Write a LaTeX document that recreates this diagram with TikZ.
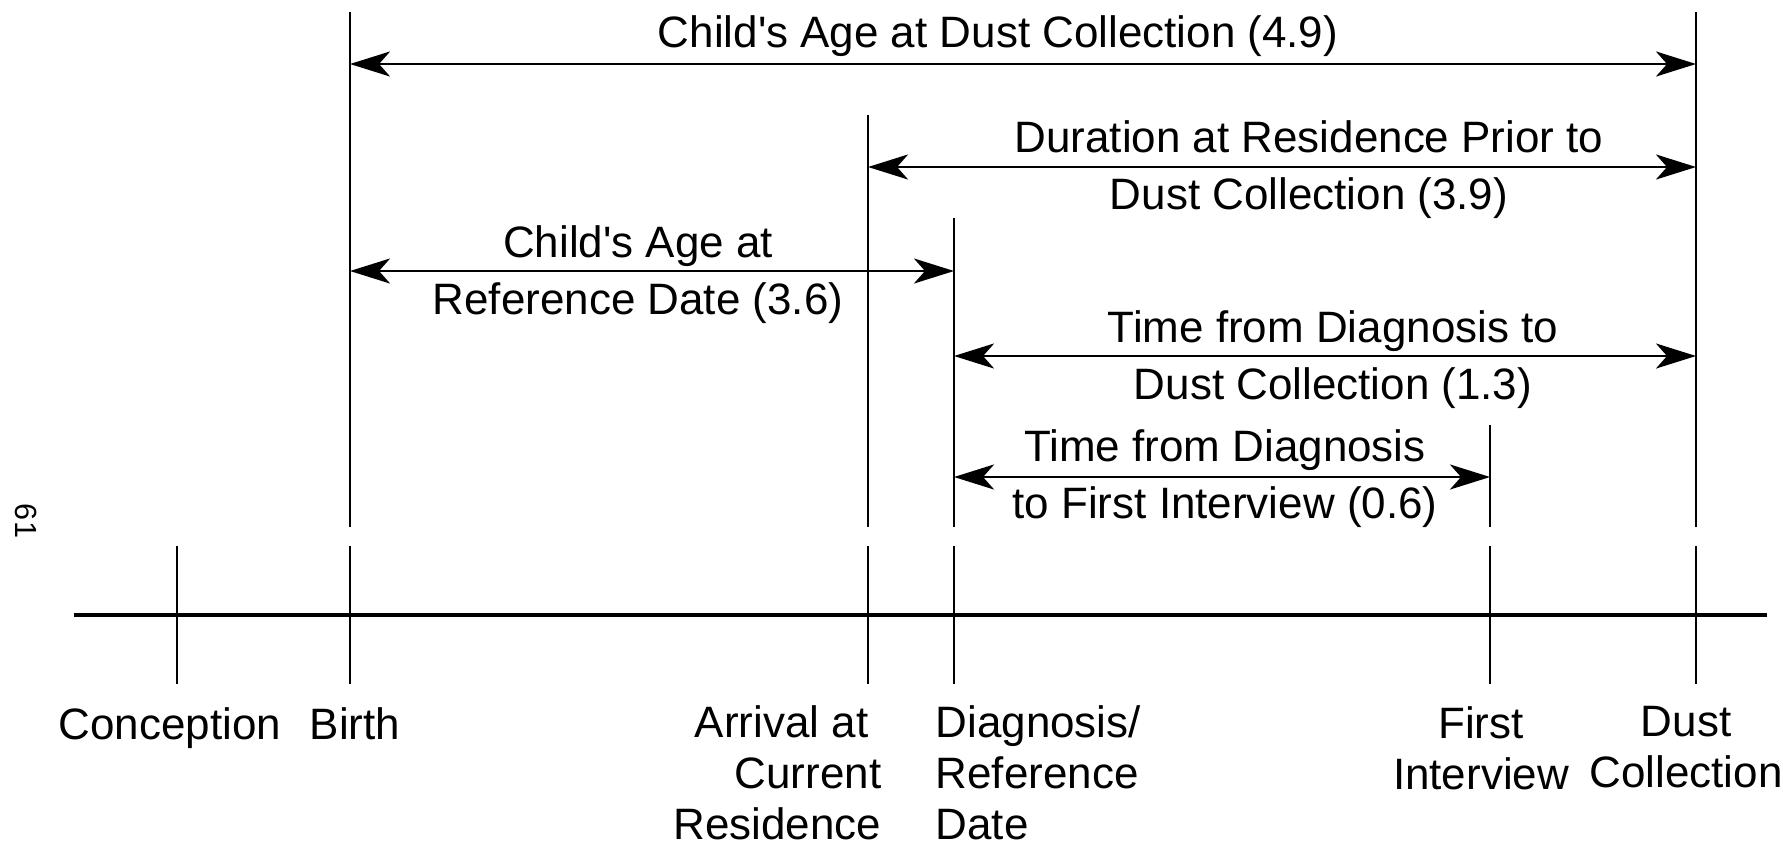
\documentclass[tikz,border=0pt]{standalone}
\usepackage{fontspec}
\setmainfont{Liberation Sans}[Ligatures=TeXOff]
\usetikzlibrary{arrows.meta}

\begin{document}
\begin{tikzpicture}[x=0.01cm,y=-0.01cm,
  >={Stealth[length=0.4cm,width=0.25cm,inset=0.11cm]},
  every node/.style={inner sep=0pt,font=\fontsize{12.5}{16.2}\selectfont},
  event/.style={line width=0.75pt},
  span/.style={<->,line width=0.75pt},
  lbl/.style={align=center},
  tick/.style={font=\fontsize{12.5}{14.5}\selectfont}]
  \useasboundingbox (0,0) rectangle (1783,845);
  \coordinate (conc) at (177,615);
  \coordinate (birth) at (350,615);
  \coordinate (arr) at (868,615);
  \coordinate (diag) at (954,615);
  \coordinate (first) at (1490,615);
  \coordinate (dust) at (1696,615);
  \draw[line width=0.95pt] (74,615) coordinate (tl) -- (1767,615) coordinate (tr);
  \draw[event] (conc) ++(0,-69) -- ++(0,138);
  \draw[event] (birth) ++(0,-69) -- ++(0,138);
  \draw[event] (arr) ++(0,-69) -- ++(0,138);
  \draw[event] (diag) ++(0,-69) -- ++(0,138);
  \draw[event] (first) ++(0,-69) -- ++(0,138);
  \draw[event] (dust) ++(0,-69) -- ++(0,138);
  \draw[event] (birth |- 0,12) -- (birth |- 0,527);
  \draw[event] (arr |- 0,115) -- (arr |- 0,527);
  \draw[event] (diag |- 0,218) -- (diag |- 0,527);
  \draw[event] (first |- 0,425) -- (first |- 0,527);
  \draw[event] (dust |- 0,12) -- (dust |- 0,527);
  \draw[span] (birth |- 0,64) -- (dust |- 0,64);
  \draw[span] (arr |- 0,167) -- (dust |- 0,167);
  \draw[span] (birth |- 0,271) -- (diag |- 0,271);
  \draw[span] (diag |- 0,356) -- (dust |- 0,356);
  \draw[span] (diag |- 0,477) -- (first |- 0,477);
  \node[lbl] (agedust) at (998,36) {Child's Age at Dust Collection (4.9)};
  \node[lbl] (resdur) at (1309,170) {Duration at Residence Prior to\\Dust Collection (3.9)};
  \node[lbl] (ageref) at (638,275) {Child's Age at\\Reference Date (3.6)};
  \node[lbl] (diagdust) at (1333,360) {Time from Diagnosis to\\Dust Collection (1.3)};
  \node[lbl] (diagint) at (1225,479) {Time from Diagnosis\\to First Interview (0.6)};
  \node[tick,anchor=north] (lconc) at (170,707) {Conception};
  \node[tick,anchor=north] (lbirth) at (355,707) {Birth};
  \node[tick,anchor=north east,align=right] (larr) at (882,705) {Arrival at\rule{0.13cm}{0pt}\\Current\\Residence};
  \node[tick,anchor=north west,align=left] (ldiag) at (935,705) {Diagnosis/\\Reference\\Date};
  \node[tick,anchor=north,align=center] (lfirst) at (1481,706) {First\\Interview};
  \node[tick,anchor=north,align=center] (ldust) at (1686,706) {Dust\\Collection};
  \node[rotate=-90,font=\fontsize{8.7}{10}\selectfont] (pageno) at (26,521) {61};
\end{tikzpicture}
\end{document}
